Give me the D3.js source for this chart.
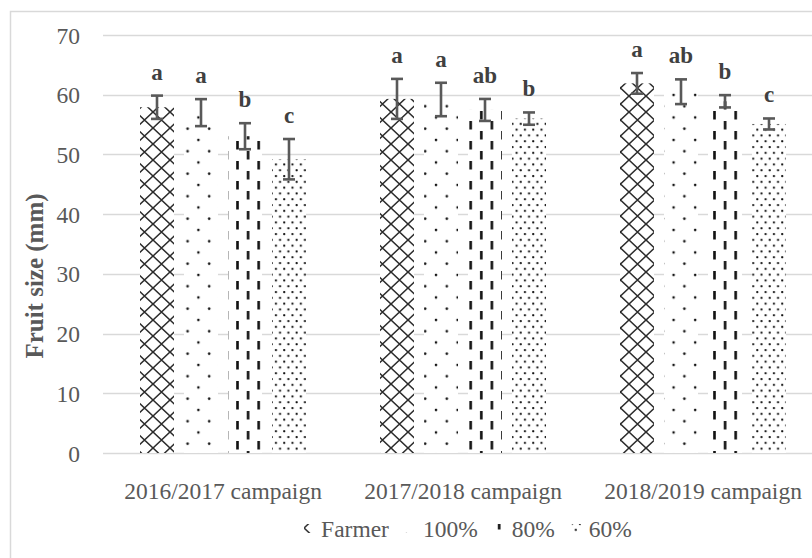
<!DOCTYPE html>
<html>
<head>
<meta charset="utf-8">
<script src="https://cdn.jsdelivr.net/npm/d3@7/dist/d3.min.js"></script>
<style>
  html, body { margin: 0; padding: 0; background: #fff; }
  svg { display: block; }
  text { font-family: "Liberation Serif", "Times New Roman", serif; }
</style>
</head>
<body>
<svg id="chart" width="812" height="558"></svg>
<script>
// Campaigns on the x axis and irrigation treatments within each campaign
const campaigns = ["2016/2017 campaign", "2017/2018 campaign", "2018/2019 campaign"];
const treatments = ["Farmer", "100%", "80%", "60%"];

// Mean fruit size (mm) per treatment, one value per campaign
const farmerSize = [57.9, 59.3, 61.9];
const full100Size = [57.0, 59.2, 60.5];
const deficit80Size = [53.05, 57.45, 58.9];
const deficit60Size = [49.2, 56.0, 55.1];

// Error bar half-widths (mm)
const farmerErr = [1.95, 3.35, 1.73];
const full100Err = [2.26, 2.8, 2.07];
const deficit80Err = [2.18, 1.84, 1.03];
const deficit60Err = [3.38, 1.03, 0.92];

// Significance letters
const farmerLetters = ["a", "a", "a"];
const full100Letters = ["a", "a", "ab"];
const deficit80Letters = ["b", "ab", "b"];
const deficit60Letters = ["c", "b", "c"];

const yTicks = [0, 10, 20, 30, 40, 50, 60, 70];
const yTitle = "Fruit size (mm)";

const seriesValues = [farmerSize, full100Size, deficit80Size, deficit60Size];
const seriesErrors = [farmerErr, full100Err, deficit80Err, deficit60Err];
const seriesLetters = [farmerLetters, full100Letters, deficit80Letters, deficit60Letters];

const rows = [];
treatments.forEach((t, si) => {
  campaigns.forEach((c, ci) => {
    rows.push({ campaign: c, treatment: t, si,
      value: seriesValues[si][ci], err: seriesErrors[si][ci], letter: seriesLetters[si][ci] });
  });
});

const svg = d3.select("#chart");
const textGrey = "#595959";
const gridGrey = "#d9d9d9";
const fontSize = 23.5;

// Pattern fills
const defs = svg.append("defs");
const patternIds = ["pat-farmer", "pat-100", "pat-80", "pat-60"];

function addPattern(id, w, h, draw) {
  const p = defs.append("pattern").attr("id", id)
    .attr("patternUnits", "userSpaceOnUse").attr("width", w).attr("height", h);
  p.append("rect").attr("width", w).attr("height", h).attr("fill", "#fff");
  draw(p, w, h);
}
// diagonal cross-hatch (diamonds)
addPattern("pat-farmer", 17, 16, (p, w, h) => {
  p.append("path")
    .attr("d", `M${-w / 2},${-h / 2}L${w * 1.5},${h * 1.5}M${w * 1.5},${-h / 2}L${-w / 2},${h * 1.5}` +
               `M${w / 2},${-h / 2}L${w * 1.5},${h / 2}M${-w / 2},${h / 2}L${w / 2},${h * 1.5}` +
               `M${w / 2},${-h / 2}L${-w / 2},${h / 2}M${w * 1.5},${h / 2}L${w / 2},${h * 1.5}`)
    .attr("stroke", "#2b2b2b").attr("stroke-width", 1.5).attr("fill", "none");
});
// sparse staggered dots
addPattern("pat-100", 21.6, 22.5, (p, w, h) => {
  p.append("circle").attr("cx", 4).attr("cy", 5).attr("r", 1.3).attr("fill", "#111");
  p.append("circle").attr("cx", 4 + w / 2).attr("cy", 5 + h / 2).attr("r", 1.3).attr("fill", "#111");
});
// vertical dashes
addPattern("pat-80", 21.2, 20, (p, w, h) => {
  p.append("rect").attr("x", 3).attr("y", 1).attr("width", 2.6).attr("height", 8.5).attr("fill", "#111");
  p.append("rect").attr("x", 3 + w / 2).attr("y", 11).attr("width", 2.6).attr("height", 8.5).attr("fill", "#111");
});
// dense staggered dots
addPattern("pat-60", 8.3, 11.6, (p, w, h) => {
  p.append("circle").attr("cx", 2).attr("cy", 2).attr("r", 1.15).attr("fill", "#111");
  p.append("circle").attr("cx", 2 + w / 2).attr("cy", 2 + h / 2).attr("r", 1.15).attr("fill", "#111");
});

// Chart area frame
svg.append("rect")
  .attr("x", 10.5).attr("y", 11.5).attr("width", 900).attr("height", 700)
  .attr("fill", "none").attr("stroke", gridGrey).attr("stroke-width", 1.5);

// Scales
const x0 = d3.scaleBand().domain(campaigns).range([103, 823]);
const x1 = d3.scaleBand().domain(treatments).range([0, x0.bandwidth()])
  .paddingInner(10 / 44).paddingOuter(0.8409);
const y = d3.scaleLinear().domain([0, 70]).range([453, 35]);

// Gridlines
svg.append("g").selectAll("line").data(yTicks).join("line")
  .attr("x1", 103).attr("x2", 812)
  .attr("y1", d => Math.round(y(d)) + 0.5).attr("y2", d => Math.round(y(d)) + 0.5)
  .attr("stroke", gridGrey).attr("stroke-width", 1.3);

// Y axis labels
const yAxis = d3.axisLeft(y).tickValues(yTicks).tickSize(0).tickPadding(0);
const yg = svg.append("g").attr("transform", "translate(80,0)").call(yAxis);
yg.select(".domain").remove();
yg.selectAll("text")
  .attr("fill", textGrey).attr("font-size", fontSize)
  .attr("font-family", "Liberation Serif, Times New Roman, serif")
  .attr("dy", "0.34em");

// Y axis title
svg.append("text")
  .attr("transform", "translate(43,276) rotate(-90)")
  .attr("text-anchor", "middle")
  .attr("font-size", 25).attr("font-weight", "bold").attr("fill", textGrey)
  .text(yTitle);

// X axis category labels
const xAxis = d3.axisBottom(x0).tickSize(0).tickPadding(0);
const xg = svg.append("g").attr("transform", "translate(0,480)").call(xAxis);
xg.select(".domain").remove();
xg.selectAll("text")
  .attr("fill", textGrey).attr("font-size", fontSize)
  .attr("font-family", "Liberation Serif, Times New Roman, serif")
  .attr("dy", "0.82em");

// Bars
const barX = d => x0(d.campaign) + x1(d.treatment);
svg.append("g").selectAll("rect").data(rows).join("rect")
  .attr("x", barX)
  .attr("y", d => y(d.value))
  .attr("width", x1.bandwidth())
  .attr("height", d => y(0) - y(d.value))
  .attr("fill", d => `url(#${patternIds[d.si]})`);

// Error bars
const eb = svg.append("g").attr("stroke", "#595959").attr("stroke-width", 2.6).attr("fill", "none");
const cap = 6;
rows.forEach(d => {
  const cx = barX(d) + x1.bandwidth() / 2;
  const yt = y(d.value + d.err), yb = y(d.value - d.err);
  eb.append("line").attr("x1", cx).attr("x2", cx).attr("y1", yt).attr("y2", yb);
  eb.append("line").attr("x1", cx - cap).attr("x2", cx + cap).attr("y1", yt).attr("y2", yt);
  eb.append("line").attr("x1", cx - cap).attr("x2", cx + cap).attr("y1", yb).attr("y2", yb);
});

// Significance letters
svg.append("g").selectAll("text").data(rows).join("text")
  .attr("x", d => barX(d) + x1.bandwidth() / 2)
  .attr("y", d => y(d.value + d.err) - 16)
  .attr("text-anchor", "middle")
  .attr("font-size", 23).attr("font-weight", "bold").attr("fill", "#404040")
  .text(d => d.letter);

// Legend
const legend = svg.append("g");
const legendY = 537;
const sw = 9, swGap = 8, itemGap = 17;
let lx = 0;
treatments.forEach((t, i) => {
  const g = legend.append("g");
  g.append("rect").attr("x", lx).attr("y", legendY - 13).attr("width", sw).attr("height", sw)
    .attr("fill", `url(#${patternIds[i]})`);
  const tx = g.append("text").attr("x", lx + sw + swGap).attr("y", legendY)
    .attr("font-size", fontSize).attr("fill", textGrey).text(t);
  const w = tx.node().getComputedTextLength();
  lx += sw + swGap + w + itemGap;
});
const legendWidth = lx - itemGap;
legend.attr("transform", `translate(${468 - legendWidth / 2},0)`);
</script>
</body>
</html>
